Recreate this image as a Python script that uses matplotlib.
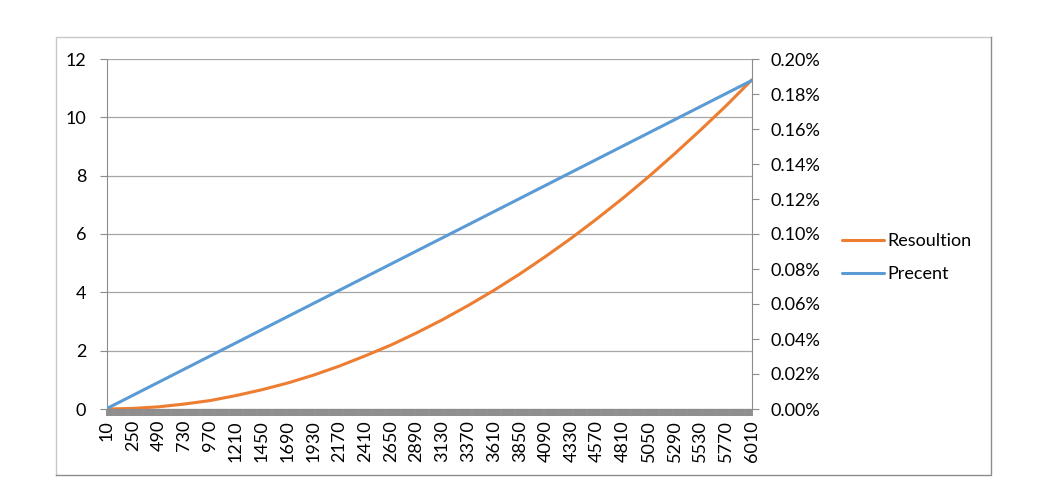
import matplotlib
matplotlib.use("Agg")
import matplotlib.pyplot as plt
from matplotlib.ticker import FuncFormatter, MultipleLocator
from matplotlib.lines import Line2D

# Category labels (x values) shown on the axis
x_labels = [10, 250, 490, 730, 970, 1210, 1450, 1690, 1930, 2170, 2410, 2650, 2890,
            3130, 3370, 3610, 3850, 4090, 4330, 4570, 4810, 5050, 5290, 5530, 5770, 6010]
# Resolution values read at each labelled category (left axis)
resolution = [0.0, 0.02, 0.075, 0.17, 0.29, 0.46, 0.66, 0.89, 1.16, 1.47, 1.82, 2.19, 2.61,
              3.06, 3.55, 4.07, 4.63, 5.23, 5.86, 6.53, 7.23, 7.97, 8.75, 9.56, 10.40, 11.29]
# Percent values read at each labelled category (right axis, fraction)
percent = [0.0000031, 0.000078, 0.000153, 0.000228, 0.000303, 0.000378, 0.000453, 0.000528,
           0.000603, 0.000678, 0.000753, 0.000828, 0.000903, 0.000978, 0.001053, 0.001128,
           0.001203, 0.001278, 0.001353, 0.001428, 0.001503, 0.001578, 0.001653, 0.001728,
           0.001803, 0.001878]

plt.rcParams['font.family'] = ['Lato', 'DejaVu Sans']
W, H = 1040, 500
fig = plt.figure(figsize=(W / 100, H / 100), dpi=100)

# chart-area border
fig.add_artist(Line2D([56 / W, 56 / W, 991 / W], [25 / H, 463 / H, 463 / H],
                      transform=fig.transFigure, color='#c8c8c8', lw=1.0))
fig.add_artist(Line2D([56 / W, 991 / W, 991 / W], [25 / H, 25 / H, 463 / H],
                      transform=fig.transFigure, color='#8c8c8c', lw=1.0))

left, right, top, bottom = 107, 752, 59, 409
ax = fig.add_axes([left / W, (H - bottom) / H, (right - left) / W, (bottom - top) / H])
ax2 = ax.twinx()

grid_c = '#a6a6a6'
axis_c = '#8c8c8c'
orange = '#ED7D31'
blue = '#5B9BD5'

l1, = ax.plot(x_labels, resolution, color=orange, lw=2.2, solid_capstyle='round', label='Resoultion')
l2, = ax2.plot(x_labels, percent, color=blue, lw=2.2, solid_capstyle='round', label='Precent')

ax.set_xlim(10, 6010)
ax.set_ylim(0, 12)
ax2.set_ylim(0, 0.002)

ax.yaxis.set_major_locator(MultipleLocator(2))
ax2.yaxis.set_major_locator(MultipleLocator(0.0002))
ax2.yaxis.set_major_formatter(FuncFormatter(lambda v, p: f"{v * 100:.2f}%"))

ax.grid(axis='y', color=grid_c, lw=0.9)
ax.set_axisbelow(True)

for a in (ax, ax2):
    for s in a.spines.values():
        s.set_visible(False)
ax.spines['left'].set_visible(True)
ax.spines['left'].set_color(axis_c)
ax2.spines['right'].set_visible(True)
ax2.spines['right'].set_color(axis_c)
ax.spines['bottom'].set_visible(True)
ax.spines['bottom'].set_color(axis_c)

ax.set_xticks(x_labels)
ax.set_xticklabels([str(v) for v in x_labels], rotation=90, va='top')
ax.set_xticks(list(range(10, 6011, 10)), minor=True)
ax.tick_params(axis='x', which='both', length=5, color='#8f8f8f', width=1.4, direction='out',
               labelsize=13, pad=3)
ax.tick_params(axis='y', length=5, color=axis_c, labelsize=13, pad=10)
ax2.tick_params(axis='y', length=5, color=axis_c, labelsize=13, pad=8)

fig.legend(handles=[l1, l2], loc='upper left', bbox_to_anchor=(826 / W, (H - 217) / H),
           frameon=False, fontsize=13, handlelength=2.3, handletextpad=0.2, labelspacing=0.95)

fig.savefig('out.png', dpi=100)
